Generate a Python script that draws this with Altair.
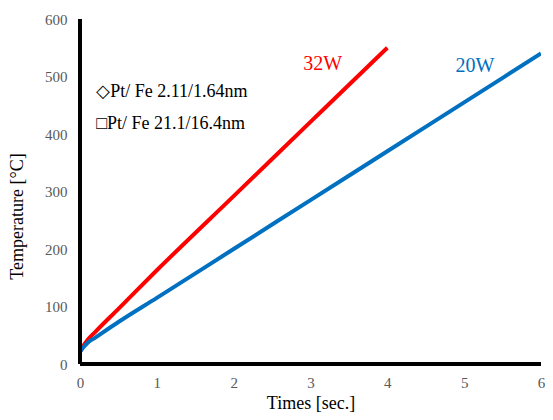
import altair as alt
import pandas as pd

# 32W series (red)
red_t = [0.0, 0.05, 0.1, 0.2, 0.5, 1.0, 2.0, 3.0, 4.0]
red_T = [21, 33, 42, 56, 96, 163, 292, 421, 550]
# 20W series (blue)
blue_t = [0.0, 0.05, 0.1, 0.2, 0.5, 1.0, 2.0, 3.0, 4.0, 5.0, 6.0]
blue_T = [21, 30, 37, 46, 73, 115, 200, 285, 370, 455, 540]

series_names = ["32W", "20W"]
series_colors = ["#FF0000", "#0070C0"]

legend_lines = ["◇Pt/ Fe 2.11/1.64nm", "□Pt/ Fe 21.1/16.4nm"]

rows = []
for t, v in zip(red_t, red_T):
    rows.append({"t": t, "T": v, "s": "32W"})
for t, v in zip(blue_t, blue_T):
    rows.append({"t": t, "T": v, "s": "20W"})
df = pd.DataFrame(rows)

lab = pd.DataFrame({"t": [3.16, 5.14], "T": [522, 518], "s": series_names})
leg = pd.DataFrame({"t": [0.21, 0.21], "T": [473, 417], "txt": legend_lines})

serif = "Liberation Serif"
xs = alt.Scale(domain=[0, 6], nice=False)
ys = alt.Scale(domain=[0, 600], nice=False)
cs = alt.Scale(domain=series_names, range=series_colors)

axis_common = dict(
    grid=False, ticks=False, domain=False,
    labelFont=serif, labelFontSize=15, labelColor="#595959",
    titleFont=serif, titleFontSize=18, titleColor="black", titleFontWeight="normal",
)

lines = alt.Chart(df).mark_line(strokeWidth=4, clip=True, interpolate="monotone").encode(
    x=alt.X("t:Q", scale=xs, title="Times [sec.]",
            axis=alt.Axis(values=[0, 1, 2, 3, 4, 5, 6], format="d", labelFlush=False,
                          labelPadding=11, titlePadding=4, **axis_common)),
    y=alt.Y("T:Q", scale=ys, title="Temperature [°C]",
            axis=alt.Axis(values=[0, 100, 200, 300, 400, 500, 600], format="d",
                          labelPadding=13, titlePadding=18, titleY=197, **axis_common)),
    color=alt.Color("s:N", scale=cs, legend=None),
    detail="s:N",
)

yaxis_line = alt.Chart(df).mark_rule(color="black", strokeWidth=3).encode(
    x=alt.datum(0, scale=xs), y=alt.datum(0), y2=alt.datum(600)
)
xaxis_line = alt.Chart(df).mark_rule(color="black", strokeWidth=3).encode(
    y=alt.datum(0), x=alt.datum(0), x2=alt.datum(6)
)

labels = alt.Chart(lab).mark_text(font=serif, fontSize=20, align="center", baseline="middle").encode(
    x="t:Q", y="T:Q", text="s:N", color=alt.Color("s:N", scale=cs, legend=None)
)

legtext = alt.Chart(leg).mark_text(font=serif, fontSize=18, align="left", baseline="middle", color="black").encode(
    x="t:Q", y="T:Q", text="txt:N"
)

chart = (lines + yaxis_line + xaxis_line + labels + legtext).properties(
    width=461, height=345,
    autosize=alt.AutoSizeParams(type="none"),
    padding={"left": 72, "top": 11, "right": 4, "bottom": 48},
).configure_view(stroke=None)

chart.save("out.html", embed_options={"renderer": "svg", "actions": False})
